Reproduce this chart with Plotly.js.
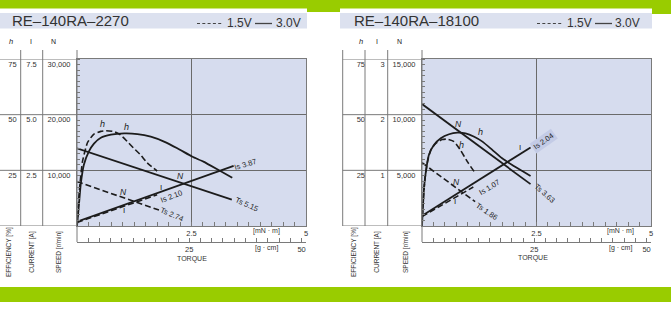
<!DOCTYPE html>
<html><head><meta charset="utf-8">
<script src="https://cdn.plot.ly/plotly-3.0.1.min.js"></script>
<style>html,body{margin:0;padding:0;background:#fff;}#chart{width:671px;height:313px;}</style>
</head><body><div id="chart"></div>
<script>
// ===== RE-140RA-2270 (left) =====
const torqueA_speed30 = [0, 3.38];
const speedA_30 = [13950, 4750];
const torqueA_current30 = [0, 3.42];
const currentA_30 = [0.19, 2.70];
const torqueA_eff30 = [0, 0.044, 0.08, 0.15, 0.26, 0.37, 0.52, 0.74, 1.03, 1.32, 1.61, 1.90, 2.19, 2.52, 2.76, 3.12, 3.39];
const effA_30 = [0, 10.0, 18.5, 27.5, 33.5, 37.0, 39.6, 41.0, 41.6, 41.3, 40.1, 37.9, 34.9, 31.1, 28.9, 24.8, 21.7];
const torqueA_speed15 = [0, 1.79];
const speedA_15 = [7970, 2870];
const torqueA_current15 = [0, 1.75];
const currentA_15 = [0.16, 1.40];
const torqueA_eff15 = [0, 0.04, 0.08, 0.12, 0.23, 0.37, 0.52, 0.63, 0.81, 0.95, 1.10, 1.24, 1.39, 1.53, 1.75];
const effA_15 = [0, 13, 22, 29, 37.5, 41.3, 42.5, 42.8, 42.4, 40.9, 37.9, 34.9, 31.9, 28.4, 24.7];
// ===== RE-140RA-18100 (right) =====
const torqueB_speed30 = [0, 2.37];
const speedB_30 = [10950, 3760];
const torqueB_current30 = [0, 2.37];
const currentB_30 = [0.185, 1.41];
const torqueB_eff30 = [0, 0.022, 0.05, 0.095, 0.15, 0.26, 0.41, 0.59, 0.77, 0.95, 1.14, 1.32, 1.54, 1.75, 1.97, 2.19, 2.37];
const effB_30 = [0, 9.4, 18.4, 25.9, 31.9, 36.4, 39.4, 41.2, 41.9, 41.6, 40.1, 37.9, 34.1, 30.4, 27.4, 24.7, 22.5];
const torqueB_speed15 = [0, 1.16];
const speedB_15 = [5690, 2180];
const torqueB_current15 = [0, 1.12];
const currentB_15 = [0.17, 0.70];
const torqueB_eff15 = [0, 0.02, 0.066, 0.12, 0.19, 0.30, 0.44, 0.55, 0.70, 0.84, 0.99, 1.15];
const effB_15 = [0, 10, 21.4, 28.9, 34.1, 37.1, 38.8, 39.0, 37.9, 34.1, 28.9, 24.1];
// ===== tick labels =====
const effTicks = [25, 50, 75];
const effTickText = ['25', '50', '75'];
const currentTicksA = [2.5, 5, 7.5];
const currentTickTextA = ['2.5', '5.0', '7.5'];
const speedTicksA = [10000, 20000, 30000];
const speedTickTextA = ['10,000', '20,000', '30,000'];
const currentTicksB = [1, 2, 3];
const currentTickTextB = ['1', '2', '3'];
const speedTicksB = [5000, 10000, 15000];
const speedTickTextB = ['5,000', '10,000', '15,000'];
const torqueTicks = [2.5, 5];
const torqueTickText = ['2.5', '5'];
const gcmTicks = [25, 50];
const gcmTickText = ['25', '50'];
const titles = ['RE\u2013140RA\u20132270', 'RE\u2013140RA\u201318100'];

const W = 671, H = 313;
const px = x => x / W, py = y => 1 - y / H;
const FONT = 'Liberation Sans, Arial, sans-serif';
const LINE = '#7a7a7a', GRID = '#6a6a6a', INK = '#1c1c1c', TXT = '#333';
const DASH = '6px,3px';
const GCM_PER_MNM = 1 / 0.0980665;

function curve(x, y, xa, ya, dashed, spline) {
  const t = {x: x, y: y, xaxis: xa, yaxis: ya, mode: 'lines', hoverinfo: 'skip', showlegend: false,
    line: {color: INK, width: dashed ? 1.6 : 1.8, dash: dashed ? DASH : 'solid'}};
  if (spline) { t.line.shape = 'spline'; t.line.smoothing = 0.5; }
  return t;
}
// empty carrier traces so the free g·cm torque axes are drawn
function carrier(xa, ya) {
  return {x: gcmTicks, y: gcmTicks.map(() => null), xaxis: xa, yaxis: ya, mode: 'lines', hoverinfo: 'skip', showlegend: false};
}
const data = [
  curve(torqueA_speed30, speedA_30, 'x', 'y', false),
  curve(torqueA_current30, currentA_30, 'x', 'y2', false),
  curve(torqueA_eff30, effA_30, 'x', 'y3', false, true),
  curve(torqueA_speed15, speedA_15, 'x', 'y', true),
  curve(torqueA_current15, currentA_15, 'x', 'y2', true),
  curve(torqueA_eff15, effA_15, 'x', 'y3', true, true),
  curve(torqueB_speed30, speedB_30, 'x3', 'y4', false),
  curve(torqueB_current30, currentB_30, 'x3', 'y5', false),
  curve(torqueB_eff30, effB_30, 'x3', 'y6', false, true),
  curve(torqueB_speed15, speedB_15, 'x3', 'y4', true),
  curve(torqueB_current15, currentB_15, 'x3', 'y5', true),
  curve(torqueB_eff15, effB_15, 'x3', 'y6', true, true),
  carrier('x2', 'y'),
  carrier('x4', 'y4')
];

const YDOM = [py(226), py(59)];
const tickFont = {family: FONT, size: 7.5, color: TXT};
function torqueAxis(dom, anchor) {
  return {domain: dom, range: [0, 5], anchor: anchor, showline: true, mirror: true, linecolor: LINE, linewidth: 1,
    showgrid: true, gridcolor: GRID, gridwidth: 1, zeroline: false,
    tickmode: 'array', tickvals: torqueTicks, ticktext: torqueTickText,
    ticks: 'inside', ticklen: 4, tickcolor: LINE, tickfont: tickFont,
    minor: {dtick: 0.25, tick0: 0, ticks: 'inside', ticklen: 4, tickcolor: LINE, showgrid: false}, fixedrange: true};
}
function gcmAxis(over) {
  return {overlaying: over, anchor: 'free', position: py(242), side: 'bottom', range: [0, 5 * GCM_PER_MNM],
    showline: true, linecolor: LINE, linewidth: 1, showgrid: false, zeroline: false,
    tickmode: 'array', tickvals: gcmTicks, ticktext: gcmTickText,
    ticks: 'inside', ticklen: 4, tickcolor: LINE, tickfont: tickFont,
    minor: {dtick: 2.5, tick0: 0, ticks: 'inside', ticklen: 4, tickcolor: LINE, showgrid: false}, fixedrange: true};
}
function speedAxis(anchor, max, vals, txt, minorStep) {
  return {domain: YDOM, range: [0, max], anchor: anchor, showline: true, mirror: true, linecolor: LINE, linewidth: 1,
    showgrid: true, gridcolor: GRID, gridwidth: 1, zeroline: false,
    tickmode: 'array', tickvals: vals, ticktext: txt, ticks: '', tickfont: tickFont,
    ticklabelshift: 5, ticklabelstandoff: 4,
    minor: {dtick: minorStep, tick0: 0, ticks: 'inside', ticklen: 3, tickcolor: LINE, showgrid: false}, fixedrange: true};
}
function sideAxis(over, pos, max, vals, txt, standoff) {
  return {overlaying: over, anchor: 'free', position: pos, side: 'left', range: [0, max],
    showline: false, showgrid: false, zeroline: false, tickmode: 'array', tickvals: vals, ticktext: txt,
    ticks: '', tickfont: tickFont, ticklabelshift: 5, ticklabelstandoff: standoff, fixedrange: true};
}

const shapes = [];
function rect(x0, y0, x1, y1, color) {
  shapes.push({type: 'rect', xref: 'paper', yref: 'paper', x0: px(x0), x1: px(x1), y0: py(y0), y1: py(y1),
    line: {width: 0}, fillcolor: color, layer: 'below'});
}
function seg(x0, y0, x1, y1, opts) {
  shapes.push(Object.assign({type: 'line', xref: 'paper', yref: 'paper', x0: px(x0), x1: px(x1), y0: py(y0), y1: py(y1),
    line: {color: LINE, width: 1}, layer: 'above'}, opts || {}));
}
// green bands
rect(0, 0, 671, 8.5, '#99cc00');
rect(307, 0, 340, 12, '#99cc00');
rect(652, 0, 671, 14, '#99cc00');
rect(0, 287, 671, 302, '#99cc00');
// title bands
rect(0, 13, 307, 28.5, '#dce1ef');
rect(340, 13, 652, 28.5, '#dce1ef');
// column lines left
[20.7, 42.7].forEach(x => seg(x, 50, x, 226));
seg(77, 50, 77, 242);
[0].concat(speedTicksA).forEach(v => shapes.push({type: 'line', xref: 'paper', yref: 'y', x0: 0, x1: px(77), y0: v, y1: v,
  line: {color: LINE, width: 1}}));
// column lines right
[342.7, 365, 387.7].forEach(x => seg(x, 50, x, 226));
seg(422, 50, 422, 242);
[0].concat(speedTicksB).forEach(v => shapes.push({type: 'line', xref: 'paper', yref: 'y4', x0: px(342.7), x1: px(422), y0: v, y1: v,
  line: {color: LINE, width: 1}}));
// legend samples
seg(197, 23.5, 223, 23.5, {line: {color: '#444', width: 1.2, dash: '3px,2.3px'}});
seg(255, 23.5, 272, 23.5, {line: {color: '#444', width: 1.3}});
seg(537, 23.5, 563, 23.5, {line: {color: '#444', width: 1.2, dash: '3px,2.3px'}});
seg(595, 23.5, 612, 23.5, {line: {color: '#444', width: 1.3}});

const annotations = [];
function ann(text, x, y, o) {
  o = o || {};
  annotations.push({text: text, xref: 'paper', yref: 'paper', x: px(x), y: py(y), showarrow: false,
    xanchor: o.xa || 'center', yanchor: 'middle', textangle: o.angle || 0,
    bgcolor: o.bg || 'rgba(0,0,0,0)', borderpad: o.bg ? 1 : 0,
    font: {family: FONT, size: o.size || 7.5, color: o.color || '#222'}});
}
// right title + legends
ann(titles[1], 353, 21, {xa: 'left', size: 15, color: TXT});
ann('1.5V', 226, 23, {xa: 'left', size: 12, color: TXT});
ann('3.0V', 275, 23, {xa: 'left', size: 12, color: TXT});
ann('1.5V', 566, 23, {xa: 'left', size: 12, color: TXT});
ann('3.0V', 614, 23, {xa: 'left', size: 12, color: TXT});
// column headers
ann('<i>h</i>', 11, 42, {size: 7.5}); ann('I', 31, 42, {size: 7}); ann('N', 53, 42, {size: 7});
ann('<i>h</i>', 361, 42, {size: 7.5}); ann('I', 377, 42, {size: 7}); ann('N', 399, 42, {size: 7});
// rotated axis titles
[[9, 'EFFICIENCY [%]'], [31.7, 'CURRENT [A]'], [59, 'SPEED [r/min]'],
 [354, 'EFFICIENCY [%]'], [376.7, 'CURRENT [A]'], [406, 'SPEED [r/min]']].forEach(a =>
  ann(a[1], a[0], 252, {angle: -90, size: 6.5, color: TXT}));
// torque units + titles
ann('[mN \u00b7 m]', 266.5, 231, {size: 7, color: TXT});
ann('[g \u00b7 cm]', 266.5, 248, {size: 7, color: TXT});
ann('TORQUE', 191.5, 259, {size: 7, color: TXT});
ann('[mN \u00b7 m]', 620, 231, {size: 7, color: TXT});
ann('[g \u00b7 cm]', 620, 248, {size: 7, color: TXT});
ann('TORQUE', 533, 257.5, {size: 7, color: TXT});
// curve labels left
ann('<i>h</i>', 102, 124, {size: 9}); ann('<i>h</i>', 126, 127, {size: 9});
ann('<i>N</i>', 180, 176, {size: 8.5}); ann('<i>N</i>', 123, 192, {size: 8.5});
ann('I', 161, 187, {size: 8}); ann('I', 124, 210, {size: 8});
ann('Is 3.87', 245, 164, {angle: -17}); ann('Ts 5.15', 247, 204, {angle: 24});
ann('Is 2.10', 171, 196, {angle: -21}); ann('Ts 2.74', 172, 214, {angle: 23});
// curve labels right
ann('<i>N</i>', 458, 124, {size: 8.5}); ann('<i>h</i>', 480, 132, {size: 9});
ann('<i>h</i>', 461, 145, {size: 9}); ann('I', 520, 148, {size: 8});
ann('Is 2.04', 543, 141, {angle: -35, bg: '#c3cbe6'}); ann('Ts 3.63', 545, 193, {angle: 42});
ann('<i>N</i>', 456, 182, {size: 8.5}); ann('Is 1.07', 489, 187, {angle: -31});
ann('I', 455, 202, {size: 8}); ann('Ts 1.86', 487, 211, {angle: 34});

const layout = {
  width: W, height: H, margin: {l: 0, r: 0, t: 0, b: 0, pad: 0},
  paper_bgcolor: '#ffffff', plot_bgcolor: '#d6dcee', showlegend: false,
  font: {family: FONT, color: TXT},
  title: {text: titles[0], x: px(12), xanchor: 'left', xref: 'paper', y: py(21), yanchor: 'middle', yref: 'paper',
    font: {family: FONT, size: 15, color: TXT}},
  xaxis: torqueAxis([px(77), px(306)], 'y'),
  xaxis2: gcmAxis('x'),
  xaxis3: torqueAxis([px(422), px(651)], 'y4'),
  xaxis4: gcmAxis('x3'),
  yaxis: speedAxis('x', 30000, speedTicksA, speedTickTextA, 1000),
  yaxis2: sideAxis('y', px(42.7), 7.5, currentTicksA, currentTickTextA, 6),
  yaxis3: sideAxis('y', px(20.7), 75, effTicks, effTickText, 4),
  yaxis4: speedAxis('x3', 15000, speedTicksB, speedTickTextB, 500),
  yaxis5: sideAxis('y4', px(387.7), 3, currentTicksB, currentTickTextB, 3),
  yaxis6: sideAxis('y4', px(365), 75, effTicks, effTickText, 1.5),
  shapes: shapes, annotations: annotations
};
Plotly.newPlot('chart', data, layout, {displayModeBar: false, staticPlot: true});
</script></body></html>
